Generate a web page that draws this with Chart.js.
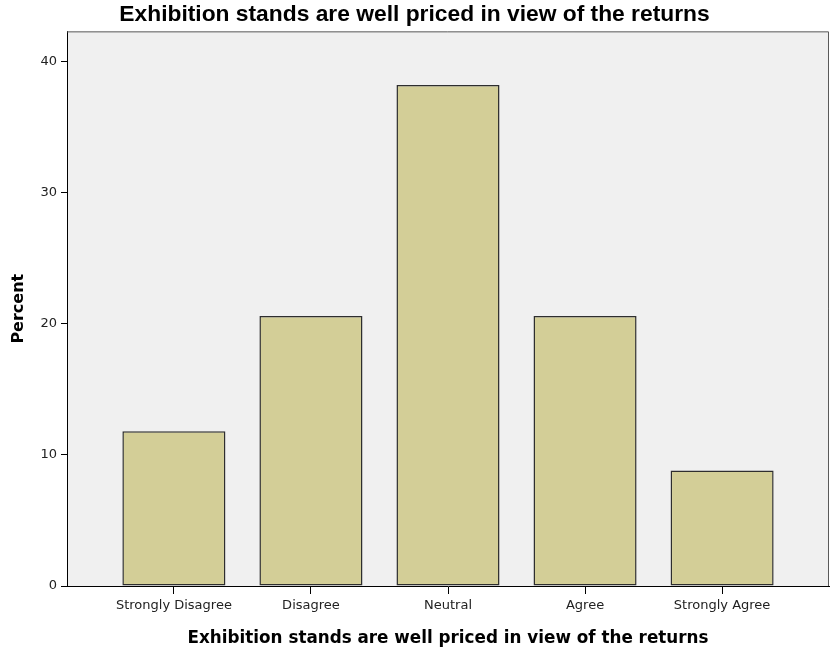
<!DOCTYPE html>
<html>
<head>
<meta charset="utf-8">
<script src="https://cdn.jsdelivr.net/npm/chart.js@4/dist/chart.umd.min.js"></script>
<style>
  html, body { margin: 0; padding: 0; background: #fff; }
  canvas { display: block; }
</style>
</head>
<body>
<canvas id="ratingChart" width="833" height="649"></canvas>
<script>
const chartTitle = 'Exhibition stands are well priced in view of the returns';
const categories = ['Strongly Disagree', 'Disagree', 'Neutral', 'Agree', 'Strongly Agree'];
const percents = [11.8, 20.6, 38.2, 20.6, 8.8];
const yTicks = [0, 10, 20, 30, 40];

const labelFont = 'DejaVu Sans, Verdana, sans-serif';

// grey plot panel behind the bars, with a frame on the top and right
const panelPlugin = {
    id: 'panel',
    beforeDraw(chart) {
        const { ctx, chartArea: a } = chart;
        ctx.save();
        ctx.fillStyle = '#f0f0f0';
        ctx.fillRect(a.left, a.top, a.right - a.left, a.bottom - a.top);
        ctx.restore();
    },
    afterDraw(chart) {
        const { ctx, chartArea: a } = chart;
        ctx.save();
        ctx.strokeStyle = '#5a5a5a';
        ctx.lineWidth = 1;
        ctx.beginPath();
        ctx.moveTo(a.left, a.top + 0.5);
        ctx.lineTo(a.right - 0.5, a.top + 0.5);
        ctx.lineTo(a.right - 0.5, a.bottom);
        ctx.stroke();
        ctx.restore();
    }
};

new Chart(document.getElementById('ratingChart').getContext('2d'), {
    type: 'bar',
    data: {
        datasets: [{
            label: 'Percent',
            data: percents.map((v, i) => ({ x: i, y: v })),
            backgroundColor: '#d3ce97',
            borderColor: '#2e2e2e',
            borderWidth: 1.5,
            borderSkipped: false,
            categoryPercentage: 0.8,
            barPercentage: 0.94
        }]
    },
    options: {
        responsive: false,
        animation: false,
        layout: { padding: { top: 0, right: 4, bottom: 0, left: 0 } },
        plugins: {
            legend: { display: false },
            tooltip: { enabled: false },
            title: {
                display: true,
                text: chartTitle,
                color: '#000',
                font: { family: 'Liberation Sans, Arial, sans-serif', size: 22.8, weight: 'bold', lineHeight: 1.2 },
                padding: { top: 1, bottom: 3 }
            }
        },
        scales: {
            x: {
                type: 'linear',
                offset: false,
                min: -0.78,
                max: 4.78,
                afterBuildTicks: scale => { scale.ticks = categories.map((c, i) => ({ value: i })); },
                afterFit: scale => { scale.height = 63; },
                ticks: {
                    callback: v => categories[v],
                    color: '#222',
                    font: { family: labelFont, size: 13 },
                    padding: 4,
                    maxRotation: 0,
                    autoSkip: false
                },
                grid: { offset: false, drawOnChartArea: false, tickLength: 8, tickColor: '#000' },
                border: { color: '#000', width: 1 },
                title: {
                    display: true,
                    text: chartTitle,
                    color: '#000',
                    font: { family: labelFont, size: 16.8, weight: 'bold' },
                    padding: { top: 7, bottom: 0 }
                }
            },
            y: {
                min: 0,
                max: 42.3,
                afterBuildTicks: scale => { scale.ticks = yTicks.map(v => ({ value: v })); },
                afterFit: scale => { scale.width = 67; },
                ticks: {
                    color: '#222',
                    font: { family: labelFont, size: 13 },
                    padding: 4
                },
                grid: { drawOnChartArea: false, tickLength: 6, tickColor: '#000' },
                border: { color: '#000', width: 1 },
                title: {
                    display: true,
                    text: 'Percent',
                    color: '#000',
                    font: { family: labelFont, size: 16, weight: 'bold' },
                    padding: { top: 9, bottom: 0 }
                }
            }
        }
    },
    plugins: [panelPlugin]
});
</script>
</body>
</html>
